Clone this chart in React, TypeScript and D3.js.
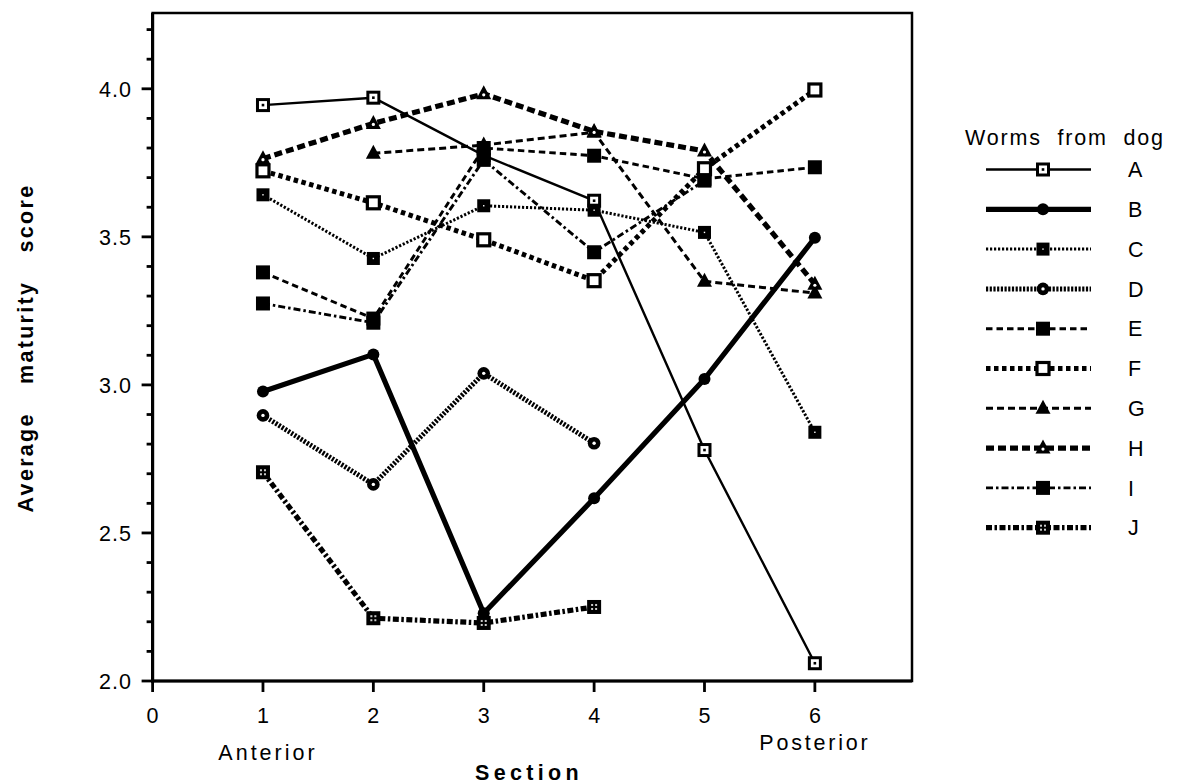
import React from "react";
import * as d3 from "d3";

const sections = [1, 2, 3, 4, 5, 6];
const seriesNames = ["A", "B", "C", "D", "E", "F", "G", "H", "I", "J"];
const valuesA = [3.945, 3.97, 3.775, 3.622, 2.78, 2.06];
const valuesB = [2.978, 3.103, 2.229, 2.617, 3.02, 3.497];
const valuesC = [3.642, 3.427, 3.605, 3.59, 3.515, 2.84];
const valuesD = [2.897, 2.664, 3.039, 2.803, null, null];
const valuesE = [3.38, 3.224, 3.8, 3.774, 3.696, 3.735];
const valuesF = [3.723, 3.615, 3.49, 3.352, 3.73, 3.996];
const valuesG = [null, 3.782, 3.81, 3.853, 3.35, 3.31];
const valuesH = [3.764, 3.883, 3.983, 3.856, 3.79, 3.34];
const valuesI = [3.275, 3.21, 3.76, 3.448, 3.69, null];
const valuesJ = [2.705, 2.212, 2.196, 2.25, null, null];
const xTicks = [0, 1, 2, 3, 4, 5, 6];
const yMajorTicks = [2.0, 2.5, 3.0, 3.5, 4.0];
const yMinorTicks = d3.range(2.1, 4.25, 0.1).map((v) => Math.round(v * 10) / 10).filter((v) => Math.round(v * 10) % 5 !== 0);

type Style = { width: number; dash: string | null; marker: string };
const styles: Record<string, Style> = {
  A: { width: 2.4, dash: null, marker: "sqDot" },
  B: { width: 5.2, dash: null, marker: "circle" },
  C: { width: 3, dash: "2.2 1.8", marker: "sqFilledDot" },
  D: { width: 5, dash: "2.2 1.5", marker: "circDot" },
  E: { width: 2.9, dash: "6.5 4", marker: "sqFilled" },
  F: { width: 5, dash: "4.5 3.5", marker: "sqOpen" },
  G: { width: 3, dash: "7 4", marker: "triFilled" },
  H: { width: 5.2, dash: "8 4", marker: "triOpen" },
  I: { width: 2.9, dash: "7 3 2.5 3", marker: "sqFilled" },
  J: { width: 5.2, dash: "6 2.5 2.5 2.5", marker: "sqGrid" },
};
const allValues: Record<string, (number | null)[]> = {
  A: valuesA, B: valuesB, C: valuesC, D: valuesD, E: valuesE,
  F: valuesF, G: valuesG, H: valuesH, I: valuesI, J: valuesJ,
};

const FONT = "'Liberation Sans', Arial, Helvetica, sans-serif";

function Marker({ type, cx, cy }: { type: string; cx: number; cy: number }) {
  switch (type) {
    case "sqDot":
      return (
        <g>
          <rect x={cx - 5.5} y={cy - 5.5} width={11} height={11} fill="#fff" stroke="#000" strokeWidth={3} />
          <rect x={cx - 1.3} y={cy - 1.3} width={2.6} height={2.6} fill="#000" />
        </g>
      );
    case "circle":
      return <circle cx={cx} cy={cy} r={6} fill="#000" />;
    case "sqFilledDot":
      return (
        <g>
          <rect x={cx - 6.5} y={cy - 6.5} width={13} height={13} fill="#000" />
          <rect x={cx - 0.7} y={cy - 0.7} width={1.4} height={1.4} fill="#fff" />
        </g>
      );
    case "circDot":
      return (
        <g>
          <circle cx={cx} cy={cy} r={6.3} fill="#000" />
          <circle cx={cx} cy={cy} r={1.7} fill="#fff" />
        </g>
      );
    case "sqFilled":
      return <rect x={cx - 7} y={cy - 7} width={14} height={14} fill="#000" />;
    case "sqOpen":
      return <rect x={cx - 6} y={cy - 6} width={12} height={12} fill="#fff" stroke="#000" strokeWidth={3.2} />;
    case "triFilled":
      return <path d={`M${cx},${cy - 8.5}L${cx + 7.5},${cy + 5.5}L${cx - 7.5},${cy + 5.5}Z`} fill="#000" />;
    case "triOpen":
      return (
        <g>
          <path d={`M${cx},${cy - 8.5}L${cx + 7.5},${cy + 5.5}L${cx - 7.5},${cy + 5.5}Z`} fill="#000" />
          <circle cx={cx} cy={cy + 1} r={1.6} fill="#fff" />
        </g>
      );
    case "sqGrid":
      return (
        <g>
          <rect x={cx - 7} y={cy - 7} width={14} height={14} fill="#000" />
          <rect x={cx - 3} y={cy - 3} width={2} height={2} fill="#fff" opacity={0.8} />
          <rect x={cx + 1} y={cy - 3} width={2} height={2} fill="#fff" opacity={0.8} />
          <rect x={cx - 3} y={cy + 1} width={2} height={2} fill="#fff" opacity={0.8} />
          <rect x={cx + 1} y={cy + 1} width={2} height={2} fill="#fff" opacity={0.8} />
        </g>
      );
    default:
      return null;
  }
}

export default function App() {
  const W = 1179, H = 784;
  const left = 152.6, right = 912, top = 13, bottom = 681;
  const x = d3.scaleLinear().domain([0, 6.88]).range([left, right]);
  const y = d3.scaleLinear().domain([2, 4.256]).range([bottom, top]);

  const lineGen = d3
    .line<number | null>()
    .defined((d) => d != null)
    .x((_, i) => x(sections[i]))
    .y((d) => y(d as number));

  const legendX1 = 986, legendX2 = 1091, legendMX = 1043, legendY0 = 169.5, legendStep = 39.8;

  return (
    <svg width={W} height={H} style={{ position: "absolute", left: 0, top: 0, background: "#fff" }} fontFamily={FONT}>
      <rect x={0} y={0} width={W} height={H} fill="#fff" />
      {/* series lines */}
      {seriesNames.map((name) => {
        const s = styles[name];
        return (
          <path
            key={"l" + name}
            d={lineGen(allValues[name]) || ""}
            fill="none"
            stroke="#000"
            strokeWidth={s.width}
            strokeDasharray={s.dash || undefined}
            strokeLinejoin="round"
          />
        );
      })}
      {/* markers */}
      {seriesNames.map((name) =>
        allValues[name].map((v, i) =>
          v == null ? null : <Marker key={name + i} type={styles[name].marker} cx={x(sections[i])} cy={y(v)} />
        )
      )}
      {/* frame */}
      <rect x={left} y={top} width={right - left} height={bottom - top} fill="none" stroke="#000" strokeWidth={2.5} />
      <line x1={left} x2={left} y1={top} y2={bottom + 1.5} stroke="#000" strokeWidth={3.2} />
      <line x1={left - 1.5} x2={right} y1={bottom} y2={bottom} stroke="#000" strokeWidth={3.2} />
      {/* y ticks */}
      {yMajorTicks.map((t) => (
        <g key={"ym" + t}>
          <line x1={left - 11} x2={left} y1={y(t)} y2={y(t)} stroke="#000" strokeWidth={2.8} />
          <text x={132} y={y(t)} dy="0.36em" textAnchor="end" fontSize={21.5} letterSpacing={1}>
            {t.toFixed(1)}
          </text>
        </g>
      ))}
      {yMinorTicks.map((t) => (
        <line key={"yn" + t} x1={left - 6} x2={left} y1={y(t)} y2={y(t)} stroke="#000" strokeWidth={2.8} />
      ))}
      {/* x ticks */}
      {xTicks.map((t) => (
        <g key={"x" + t}>
          <line x1={x(t)} x2={x(t)} y1={bottom} y2={bottom + 11} stroke="#000" strokeWidth={2.8} />
          <text x={x(t)} y={723} textAnchor="middle" fontSize={21.5}>
            {t}
          </text>
        </g>
      ))}
      <text x={x(1) + 5} y={760} textAnchor="middle" fontSize={21.5} letterSpacing={3}>
        Anterior
      </text>
      <text x={x(6)} y={750} textAnchor="middle" fontSize={21.5} letterSpacing={2.8}>
        Posterior
      </text>
      <text x={529} y={780} textAnchor="middle" fontSize={21.5} fontWeight="bold" letterSpacing={4.3}>
        Section
      </text>
      <text
        transform={`translate(33,${348}) rotate(-90)`}
        textAnchor="middle"
        fontSize={21.5}
        fontWeight="bold"
        letterSpacing={2.3}
        style={{ wordSpacing: "20px" }}
      >
        Average maturity score
      </text>
      {/* legend */}
      <text x={965} y={145} fontSize={21.5} letterSpacing={1.8} style={{ wordSpacing: "8px" }}>
        Worms from dog
      </text>
      {seriesNames.map((name, i) => {
        const s = styles[name];
        const ly = legendY0 + i * legendStep;
        return (
          <g key={"lg" + name}>
            <line
              x1={legendX1}
              x2={legendX2}
              y1={ly}
              y2={ly}
              stroke="#000"
              strokeWidth={s.width}
              strokeDasharray={s.dash || undefined}
            />
            <Marker type={s.marker} cx={legendMX} cy={ly} />
            <text x={1128} y={ly} dy="0.36em" fontSize={21.5}>
              {name}
            </text>
          </g>
        );
      })}
    </svg>
  );
}
